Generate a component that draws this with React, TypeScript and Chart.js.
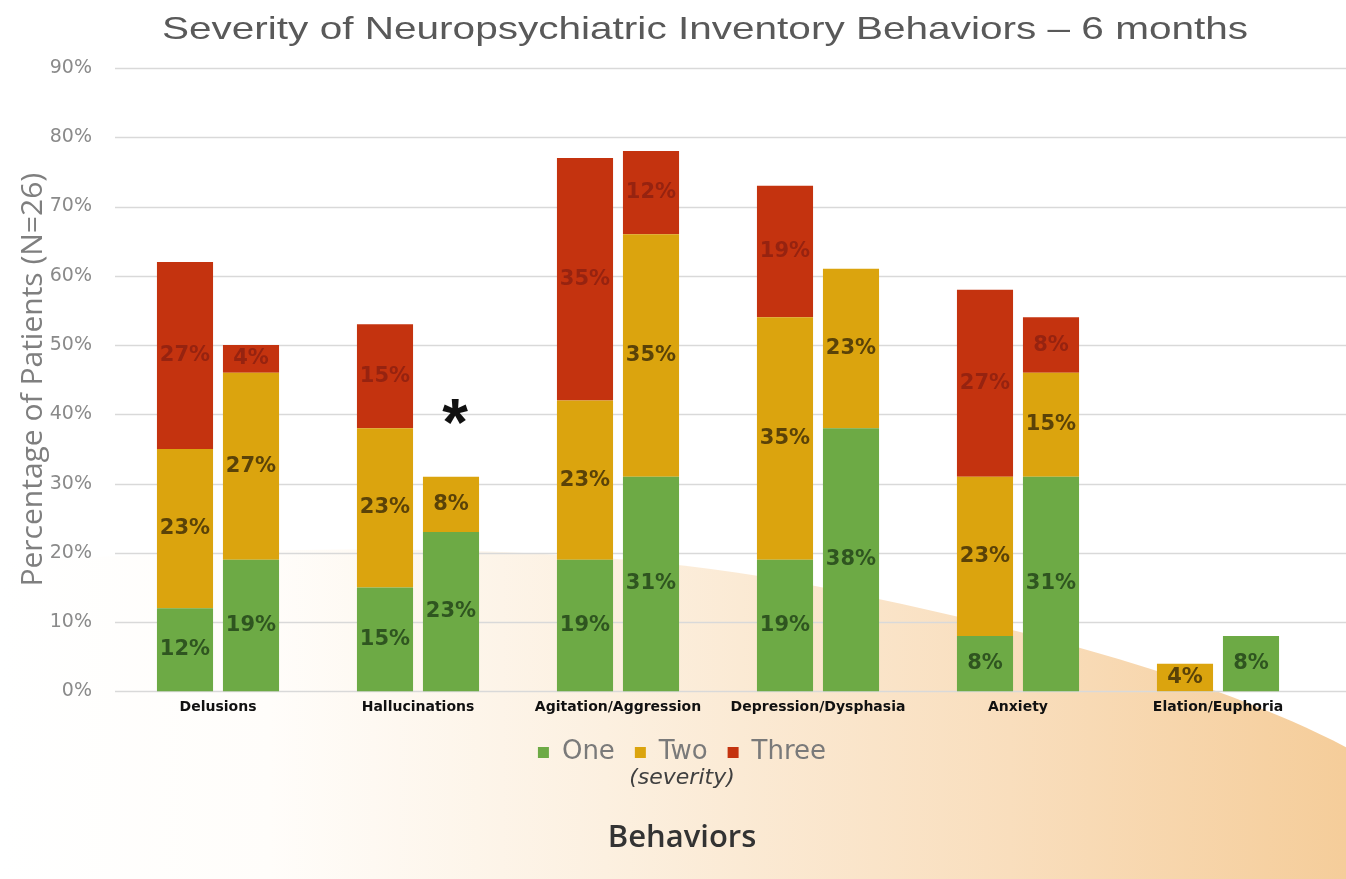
import React, { useEffect, useRef } from "react";
import { Chart, registerables } from "chart.js";

Chart.register(...registerables);

const titleText = "Severity of Neuropsychiatric Inventory Behaviors \u2013 6 months";
const categories = [
  "Delusions",
  "Hallucinations",
  "Agitation/Aggression",
  "Depression/Dysphasia",
  "Anxiety",
  "Elation/Euphoria",
];
const severityNames = ["One", "Two", "Three"];
// first bar of each pair
const oneFirst = [12, 15, 19, 19, 8, 0];
const twoFirst = [23, 23, 23, 35, 23, 4];
const threeFirst = [27, 15, 35, 19, 27, 0];
// second bar of each pair
const oneSecond = [19, 23, 31, 38, 31, 8];
const twoSecond = [27, 8, 35, 23, 15, 0];
const threeSecond = [4, 0, 12, 0, 8, 0];
const yTicks = [0, 10, 20, 30, 40, 50, 60, 70, 80, 90];
const asteriskCategory = "Hallucinations";
const asteriskLevel = 40;

const COLORS = ["#6DAA45", "#DBA40E", "#C4330F"];
const LABEL_COLORS = ["#2F5520", "#5A4208", "#962310"];

const backgroundPlugin = {
  id: "bgShape",
  beforeDraw(chart: any) {
    const { ctx, width, height } = chart;
    ctx.save();
    ctx.fillStyle = "#ffffff";
    ctx.fillRect(0, 0, width, height);
    const g = ctx.createLinearGradient(0, 0, width, 0);
    g.addColorStop(0, "rgba(255,255,255,1)");
    g.addColorStop(0.2, "#FFFDFA");
    g.addColorStop(0.45, "#FCF0E0");
    g.addColorStop(0.75, "#F9DEBD");
    g.addColorStop(1, "#F5CD9A");
    ctx.fillStyle = g;
    ctx.beginPath();
    ctx.moveTo(0, height * 0.64);
    ctx.bezierCurveTo(width * 0.25, height * 0.615, width * 0.45, height * 0.62, width * 0.6, height * 0.665);
    ctx.bezierCurveTo(width * 0.75, height * 0.71, width * 0.9, height * 0.77, width, height * 0.85);
    ctx.lineTo(width, height);
    ctx.lineTo(0, height);
    ctx.closePath();
    ctx.fill();
    ctx.restore();
  },
};

// horizontal grid lines running across the full width to the right edge
const gridPlugin = {
  id: "wideGrid",
  beforeDatasetsDraw(chart: any) {
    const { ctx, chartArea, width } = chart;
    const y = chart.scales.y;
    ctx.save();
    ctx.strokeStyle = "#D9D9D9";
    ctx.lineWidth = 1.5;
    y.ticks.forEach((t: any) => {
      const py = Math.round(y.getPixelForValue(t.value)) + 0.5;
      ctx.beginPath();
      ctx.moveTo(chartArea.left - 3, py);
      ctx.lineTo(width, py);
      ctx.stroke();
    });
    ctx.restore();
  },
};

const labelPlugin = {
  id: "segLabels",
  afterDatasetsDraw(chart: any) {
    const { ctx } = chart;
    ctx.save();
    ctx.font = "bold 21px 'DejaVu Sans'";
    ctx.textAlign = "center";
    ctx.textBaseline = "middle";
    chart.data.datasets.forEach((ds: any, di: number) => {
      const meta = chart.getDatasetMeta(di);
      meta.data.forEach((el: any, i: number) => {
        const v = ds.data[i];
        if (!v) return;
        ctx.fillStyle = ds.labelColor;
        ctx.fillText(v + "%", el.x, (el.y + el.base) / 2);
      });
    });
    // asterisk marking significance
    const ci = categories.indexOf(asteriskCategory);
    const metaB = chart.getDatasetMeta(3);
    const el = metaB.data[ci];
    if (el) {
      ctx.fillStyle = "#111111";
      ctx.font = "bold 66px 'Liberation Sans'";
      ctx.textBaseline = "middle";
      ctx.fillText("*", el.x + 4, chart.scales.y.getPixelForValue(asteriskLevel) + 12);
    }
    ctx.restore();
  },
};

export default function App() {
  const ref = useRef<HTMLCanvasElement>(null);
  useEffect(() => {
    if (!ref.current) return;
    const mk = (label: string, data: number[], idx: number, stack: string) => ({
      label,
      data,
      stack,
      backgroundColor: COLORS[idx],
      labelColor: LABEL_COLORS[idx],
      borderWidth: 0,
      categoryPercentage: 0.66,
      barPercentage: 0.85,
    });
    const chart = new Chart(ref.current, {
      type: "bar",
      data: {
        labels: categories,
        datasets: [
          mk(severityNames[0], oneFirst, 0, "a"),
          mk(severityNames[1], twoFirst, 1, "a"),
          mk(severityNames[2], threeFirst, 2, "a"),
          mk(severityNames[0], oneSecond, 0, "b"),
          mk(severityNames[1], twoSecond, 1, "b"),
          mk(severityNames[2], threeSecond, 2, "b"),
        ] as any,
      },
      options: {
        animation: false,
        responsive: true,
        maintainAspectRatio: false,
        layout: { padding: { top: 68, right: 28, left: 46, bottom: 0 } },
        scales: {
          x: {
            stacked: true,
            grid: { display: false, drawTicks: false },
            border: { display: false },
            ticks: {
              autoSkip: false,
              maxRotation: 0,
              padding: 8,
              color: "#111111",
              font: { family: "'DejaVu Sans'", size: 14, weight: "bold" },
            },
            afterFit(scale: any) {
              scale.height = 28;
            },
          },
          y: {
            stacked: true,
            min: 0,
            max: 90,
            afterBuildTicks(scale: any) {
              scale.ticks = yTicks.map((v) => ({ value: v }));
            },
            grid: { display: false, drawTicks: false },
            border: { display: false },
            ticks: {
              padding: 26,
              color: "#8A8A8A",
              font: { family: "'DejaVu Sans'", size: 19 },
              callback: (v: any) => v + "%",
            },
            title: {
              display: true,
              text: "Percentage of Patients (N=26)",
              color: "#7F7F7F",
              font: { family: "'Open Sans'", size: 30 },
              padding: { top: -31, bottom: 0 },
            },
            afterFit(scale: any) {
              scale.width = 72;
            },
          },
        },
        plugins: {
          legend: {
            position: "bottom",
            labels: {
              filter: (item: any) => item.datasetIndex < 3,
              boxWidth: 11,
              boxHeight: 11,
              padding: 20,
              color: "#7A7A7A",
              font: { family: "'DejaVu Sans'", size: 26 },
            },
          },
          subtitle: {
            display: true,
            position: "bottom",
            text: "(severity)",
            color: "#404040",
            font: { family: "'DejaVu Sans'", size: 22, style: "italic" },
            padding: { top: -10, bottom: 0 },
          },
          title: {
            display: true,
            position: "bottom",
            text: "Behaviors",
            color: "#333333",
            font: { family: "'Open Sans'", size: 31, weight: "600" },
            padding: { top: 28, bottom: 22 },
          },
          tooltip: { enabled: false },
        },
      } as any,
      plugins: [backgroundPlugin, gridPlugin, labelPlugin],
    });
    return () => chart.destroy();
  }, []);

  return (
    <div style={{ position: "fixed", left: 0, top: 0, width: 1346, height: 879 }}>
      <canvas ref={ref} />
      <div
        style={{
          position: "absolute",
          left: 0,
          top: 9,
          width: 1410,
          textAlign: "center",
          fontFamily: "'Liberation Sans', Arial, sans-serif",
          fontSize: 32,
          color: "#595959",
          whiteSpace: "nowrap",
          lineHeight: "38px",
          transform: "scaleX(1.267)",
          transformOrigin: "705px 50%",
        }}
      >
        {titleText}
      </div>
    </div>
  );
}
